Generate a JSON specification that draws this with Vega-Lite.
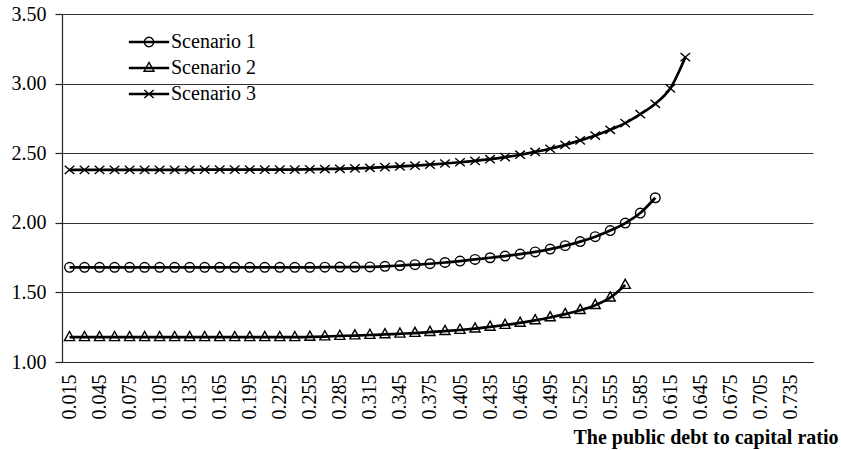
{
  "$schema": "https://vega.github.io/schema/vega-lite/v6.json",
  "width": 751,
  "height": 348,
  "autosize": "none",
  "padding": {"left": 62, "top": 14, "right": 28, "bottom": 88},
  "background": "white",
  "config": {
    "font": "Liberation Serif",
    "view": {"stroke": null}
  },
  "data": {
    "values": [
      {"r":0.015,"s":"Scenario 1","v":1.68},{"r":0.03,"s":"Scenario 1","v":1.68},{"r":0.045,"s":"Scenario 1","v":1.68},{"r":0.06,"s":"Scenario 1","v":1.68},{"r":0.075,"s":"Scenario 1","v":1.68},{"r":0.09,"s":"Scenario 1","v":1.68},{"r":0.105,"s":"Scenario 1","v":1.68},{"r":0.12,"s":"Scenario 1","v":1.68},{"r":0.135,"s":"Scenario 1","v":1.68},{"r":0.15,"s":"Scenario 1","v":1.68},{"r":0.165,"s":"Scenario 1","v":1.68},{"r":0.18,"s":"Scenario 1","v":1.68},{"r":0.195,"s":"Scenario 1","v":1.68},{"r":0.21,"s":"Scenario 1","v":1.68},{"r":0.225,"s":"Scenario 1","v":1.68},{"r":0.24,"s":"Scenario 1","v":1.68},
      {"r":0.255,"s":"Scenario 1","v":1.68},{"r":0.27,"s":"Scenario 1","v":1.681},{"r":0.285,"s":"Scenario 1","v":1.682},{"r":0.3,"s":"Scenario 1","v":1.682},{"r":0.315,"s":"Scenario 1","v":1.683},{"r":0.33,"s":"Scenario 1","v":1.687},{"r":0.345,"s":"Scenario 1","v":1.693},{"r":0.36,"s":"Scenario 1","v":1.699},{"r":0.375,"s":"Scenario 1","v":1.706},{"r":0.39,"s":"Scenario 1","v":1.715},{"r":0.405,"s":"Scenario 1","v":1.725},{"r":0.42,"s":"Scenario 1","v":1.737},{"r":0.435,"s":"Scenario 1","v":1.749},{"r":0.45,"s":"Scenario 1","v":1.761},{"r":0.465,"s":"Scenario 1","v":1.775},{"r":0.48,"s":"Scenario 1","v":1.791},{"r":0.495,"s":"Scenario 1","v":1.811},{"r":0.51,"s":"Scenario 1","v":1.836},{"r":0.525,"s":"Scenario 1","v":1.865},{"r":0.54,"s":"Scenario 1","v":1.9},{"r":0.555,"s":"Scenario 1","v":1.944},{"r":0.57,"s":"Scenario 1","v":1.998},{"r":0.585,"s":"Scenario 1","v":2.07},{"r":0.6,"s":"Scenario 1","v":2.18},
      {"r":0.015,"s":"Scenario 2","v":1.178},{"r":0.03,"s":"Scenario 2","v":1.178},{"r":0.045,"s":"Scenario 2","v":1.178},{"r":0.06,"s":"Scenario 2","v":1.178},{"r":0.075,"s":"Scenario 2","v":1.178},{"r":0.09,"s":"Scenario 2","v":1.178},{"r":0.105,"s":"Scenario 2","v":1.178},{"r":0.12,"s":"Scenario 2","v":1.178},{"r":0.135,"s":"Scenario 2","v":1.178},{"r":0.15,"s":"Scenario 2","v":1.178},{"r":0.165,"s":"Scenario 2","v":1.178},{"r":0.18,"s":"Scenario 2","v":1.178},{"r":0.195,"s":"Scenario 2","v":1.178},{"r":0.21,"s":"Scenario 2","v":1.178},{"r":0.225,"s":"Scenario 2","v":1.178},{"r":0.24,"s":"Scenario 2","v":1.178},
      {"r":0.255,"s":"Scenario 2","v":1.18},{"r":0.27,"s":"Scenario 2","v":1.183},{"r":0.285,"s":"Scenario 2","v":1.187},{"r":0.3,"s":"Scenario 2","v":1.19},{"r":0.315,"s":"Scenario 2","v":1.194},{"r":0.33,"s":"Scenario 2","v":1.198},{"r":0.345,"s":"Scenario 2","v":1.203},{"r":0.36,"s":"Scenario 2","v":1.208},{"r":0.375,"s":"Scenario 2","v":1.215},{"r":0.39,"s":"Scenario 2","v":1.222},{"r":0.405,"s":"Scenario 2","v":1.23},{"r":0.42,"s":"Scenario 2","v":1.24},{"r":0.435,"s":"Scenario 2","v":1.252},{"r":0.45,"s":"Scenario 2","v":1.266},{"r":0.465,"s":"Scenario 2","v":1.281},{"r":0.48,"s":"Scenario 2","v":1.299},{"r":0.495,"s":"Scenario 2","v":1.32},{"r":0.51,"s":"Scenario 2","v":1.344},{"r":0.525,"s":"Scenario 2","v":1.372},{"r":0.54,"s":"Scenario 2","v":1.408},{"r":0.555,"s":"Scenario 2","v":1.462},{"r":0.57,"s":"Scenario 2","v":1.553},
      {"r":0.015,"s":"Scenario 3","v":2.38},{"r":0.03,"s":"Scenario 3","v":2.38},{"r":0.045,"s":"Scenario 3","v":2.38},{"r":0.06,"s":"Scenario 3","v":2.38},{"r":0.075,"s":"Scenario 3","v":2.38},{"r":0.09,"s":"Scenario 3","v":2.38},{"r":0.105,"s":"Scenario 3","v":2.38},{"r":0.12,"s":"Scenario 3","v":2.38},{"r":0.135,"s":"Scenario 3","v":2.38},{"r":0.15,"s":"Scenario 3","v":2.382},{"r":0.165,"s":"Scenario 3","v":2.382},{"r":0.18,"s":"Scenario 3","v":2.382},{"r":0.195,"s":"Scenario 3","v":2.382},{"r":0.21,"s":"Scenario 3","v":2.382},{"r":0.225,"s":"Scenario 3","v":2.382},{"r":0.24,"s":"Scenario 3","v":2.382},
      {"r":0.255,"s":"Scenario 3","v":2.384},{"r":0.27,"s":"Scenario 3","v":2.386},{"r":0.285,"s":"Scenario 3","v":2.388},{"r":0.3,"s":"Scenario 3","v":2.391},{"r":0.315,"s":"Scenario 3","v":2.395},{"r":0.33,"s":"Scenario 3","v":2.4},{"r":0.345,"s":"Scenario 3","v":2.405},{"r":0.36,"s":"Scenario 3","v":2.411},{"r":0.375,"s":"Scenario 3","v":2.418},{"r":0.39,"s":"Scenario 3","v":2.426},{"r":0.405,"s":"Scenario 3","v":2.435},{"r":0.42,"s":"Scenario 3","v":2.445},{"r":0.435,"s":"Scenario 3","v":2.457},{"r":0.45,"s":"Scenario 3","v":2.472},{"r":0.465,"s":"Scenario 3","v":2.489},{"r":0.48,"s":"Scenario 3","v":2.509},{"r":0.495,"s":"Scenario 3","v":2.532},{"r":0.51,"s":"Scenario 3","v":2.56},{"r":0.525,"s":"Scenario 3","v":2.592},{"r":0.54,"s":"Scenario 3","v":2.627},{"r":0.555,"s":"Scenario 3","v":2.668},{"r":0.57,"s":"Scenario 3","v":2.716},{"r":0.585,"s":"Scenario 3","v":2.78},{"r":0.6,"s":"Scenario 3","v":2.855},{"r":0.615,"s":"Scenario 3","v":2.966},{"r":0.63,"s":"Scenario 3","v":3.19}
    ]
  },
  "encoding": {
    "x": {
      "field": "r",
      "type": "quantitative",
      "scale": {"domain": [0.0075, 0.7575], "nice": false, "zero": false},
      "axis": {
        "values": [0.015,0.045,0.075,0.105,0.135,0.165,0.195,0.225,0.255,0.285,0.315,0.345,0.375,0.405,0.435,0.465,0.495,0.525,0.555,0.585,0.615,0.645,0.675,0.705,0.735],
        "format": ".3f",
        "labelAngle": 270,
        "labelFontSize": 20,
        "labelFont": "Liberation Serif",
        "labelColor": "black",
        "labelPadding": 12,
        "labelFlush": false,
        "labelOverlap": false,
        "ticks": false,
        "grid": false,
        "domain": true,
        "domainColor": "#222",
        "domainWidth": 1.2,
        "title": "The public debt to capital ratio",
        "titleFont": "Liberation Serif",
        "titleFontSize": 20,
        "titleFontWeight": "bold",
        "titleColor": "black",
        "titleAngle": 0,
        "titleAlign": "right",
        "titleBaseline": "alphabetic",
        "titleX": 776,
        "titleY": 81
      }
    },
    "y": {
      "field": "v",
      "type": "quantitative",
      "scale": {"domain": [1, 3.5], "nice": false, "zero": false},
      "axis": {
        "values": [1, 1.5, 2, 2.5, 3, 3.5],
        "format": ".2f",
        "labelFontSize": 20,
        "labelFont": "Liberation Serif",
        "labelColor": "black",
        "labelPadding": 9,
        "tickSize": 7,
        "tickColor": "#222",
        "tickWidth": 1.2,
        "domainColor": "#222",
        "domainWidth": 1.2,
        "grid": true,
        "gridColor": "#333",
        "gridWidth": 1,
        "title": null
      }
    }
  },
  "layer": [
    {
      "mark": {"type": "line", "color": "black", "strokeWidth": 2.7, "interpolate": "monotone"},
      "encoding": {"detail": {"field": "s", "type": "nominal"}}
    },
    {
      "mark": {"type": "point", "filled": false, "stroke": "black", "strokeWidth": 1.4, "size": 92, "opacity": 1},
      "encoding": {
        "shape": {
          "field": "s",
          "type": "nominal",
          "scale": {
            "domain": ["Scenario 1", "Scenario 2", "Scenario 3"],
            "range": [
              "M-1,0A1,1 0 1,0 1,0A1,1 0 1,0 -1,0",
              "M0,-1.2L1.05,0.7L-1.05,0.7Z",
              "M-1,-0.85L1,0.85M-1,0.85L1,-0.85"
            ]
          },
          "legend": null
        }
      }
    },
    {
      "mark": {"type": "point", "filled": false, "stroke": "black", "strokeWidth": 1.4, "size": 88, "opacity": 0},
      "encoding": {
        "shape": {
          "field": "s",
          "type": "nominal",
          "scale": {
            "domain": ["Scenario 1", "Scenario 2", "Scenario 3"],
            "range": [
              "M-4.3,-0.13L4.3,-0.13M-4.3,0.13L4.3,0.13M-1,0A1,1 0 1,0 1,0A1,1 0 1,0 -1,0",
              "M-4.3,-0.13L4.3,-0.13M-4.3,0.13L4.3,0.13M0,-1.2L1.05,0.7L-1.05,0.7Z",
              "M-4.3,-0.13L4.3,-0.13M-4.3,0.13L4.3,0.13M-1,-0.85L1,0.85M-1,0.85L1,-0.85"
            ]
          },
          "legend": {
            "title": null,
            "orient": "none",
            "legendX": 77,
            "legendY": 18,
            "padding": 0,
            "labelFontSize": 20,
            "labelFont": "Liberation Serif",
            "labelColor": "black",
            "labelOffset": 12,
            "rowPadding": 6,
            "symbolSize": 88,
            "symbolOpacity": 1,
            "symbolStrokeColor": "black",
            "symbolFillColor": "transparent",
            "symbolStrokeWidth": 1.4
          }
        }
      }
    }
  ],
  "resolve": {"scale": {"shape": "independent"}, "legend": {"shape": "independent"}}
}
